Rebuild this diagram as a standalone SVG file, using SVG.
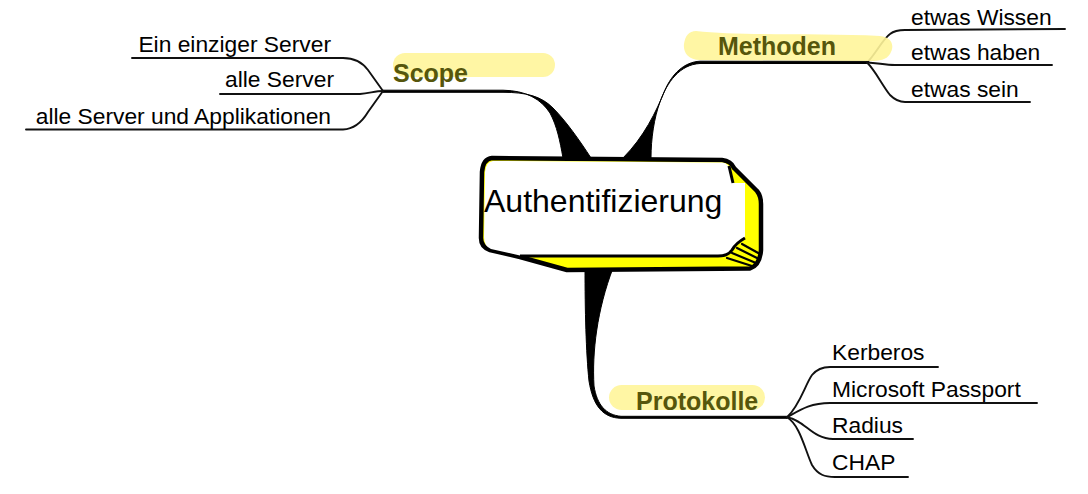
<svg xmlns="http://www.w3.org/2000/svg" width="1088" height="494" viewBox="0 0 1088 494">
<style>
  .leaf { font-family: "Liberation Sans", Arial, sans-serif; font-size: 22.8px; fill: #000; }
  .main { font-family: "Liberation Sans", Arial, sans-serif; font-size: 25px; font-weight: bold; fill: #56560c; }
  .center { font-family: "Liberation Sans", Arial, sans-serif; font-size: 32px; fill: #000; }
  .thin { fill: none; stroke: #111; stroke-width: 1.9; stroke-linecap: round; }
  .wedge { fill: #000; stroke: #000; stroke-width: 1; }
  .hl { fill: #fff59a; opacity: 0.9; }
  .hatch { stroke: #000; stroke-width: 2.2; stroke-linecap: round; }
</style>
<rect width="1088" height="494" fill="#fff"/>

<g id="connectors">
  <!-- main branches (tapered) -->
  <path class="wedge" d="M 383 90.2 L 503 90.2 C 526 90.5 541 99 550 113 C 557 126 560 141 563 158 L 591 158 C 580 141 566 121 553 108 C 541 96 526 92.3 503 92.3 L 383 92.3 Z"/>
  <path class="wedge" d="M 867 61.2 L 700 61.2 C 684 62 672 74 665 90 C 656 112 644 137 623 158 L 651 158 C 651 139 654 118 660 102 C 667 82 680 64.5 700 63.5 L 867 63.5 Z"/>
  <path class="wedge" d="M 585 268 C 585 310 586 352 589 381 C 593 406 603 417.8 621 418.3 L 787 418.3 L 787 416.3 L 621 416.3 C 606 415 597 405 594 386 C 592 352 597 310 613 268 Z"/>
  <!-- Scope children -->
  <path class="thin" d="M 132 58 L 343 58 C 355 58 362 62 368 70 L 383 91"/>
  <path class="thin" d="M 220 94 L 360 94 C 370 93 376 91 383 91"/>
  <path class="thin" d="M 26 129.5 L 343 129.5 C 355 129 362 122 368 112 L 383 91"/>
  <!-- Methoden children -->
  <path class="thin" d="M 867 62.5 C 875 55 882 40 890 34 C 895 30 900 30 905 30 L 1065 29"/>
  <path class="thin" d="M 867 62.5 C 878 63 885 65 895 65 L 1052 65"/>
  <path class="thin" d="M 867 62.5 C 875 70 882 85 890 95 C 895 100 900 102 905 102 L 1030 102"/>
  <!-- Protokolle children -->
  <path class="thin" d="M 787 417.3 C 800 405 805 385 812 375 C 817 369 822 367 830 367 L 938 367"/>
  <path class="thin" d="M 787 417.3 C 800 410 810 403 830 403 L 1037 403"/>
  <path class="thin" d="M 787 417.3 C 805 420 812 439 833 439 L 913 439"/>
  <path class="thin" d="M 787 417.3 C 800 425 805 450 812 465 C 818 475 825 477 835 477 L 908 477"/>
</g>

<g id="center">
  <path d="M 492 158 L 722 160 Q 731 161 734 168 L 757 191 Q 761 196 761 204 L 761 250 Q 760 265 750 268.5 L 567 270 L 520 257 L 490 250 Q 481 247 481 238 L 482 172 Q 483 159 492 158 Z" fill="#ffff00" stroke="#000" stroke-width="4.5" stroke-linejoin="round"/>
  <path d="M 493 161 L 722 162.5 Q 729 163.5 731 170 L 734 183 L 745 183 L 745 238 Q 736 244 732 250 Q 728 255.5 718 255.5 L 520 255.5 L 491 249 Q 484 246 484 237 L 485 172 Q 486 161.5 493 161 Z" fill="#fff"/>
  <path d="M 729 166 L 733 183" stroke="#000" stroke-width="3" fill="none"/>
  <path d="M 745 238 Q 736 243 732 250 Q 728 256 718 256 L 520 256" stroke="#000" stroke-width="3" fill="none"/>
  <line class="hatch" x1="727" y1="258" x2="752" y2="266"/>
  <line class="hatch" x1="732" y1="253" x2="756" y2="263"/>
  <line class="hatch" x1="737" y1="248" x2="759" y2="259"/>
  <line class="hatch" x1="742" y1="244" x2="760" y2="254"/>
  <text class="center" x="484" y="212">Authentifizierung</text>
</g>

<g id="scope">
  <rect class="hl" x="393" y="53" width="162" height="24" rx="12"/>
  <text class="main" x="393" y="82">Scope</text>
</g>
<g id="scope-1"><text class="leaf" x="331" y="52" text-anchor="end">Ein einziger Server</text></g>
<g id="scope-2"><text class="leaf" x="334" y="87" text-anchor="end">alle Server</text></g>
<g id="scope-3"><text class="leaf" x="331" y="124" text-anchor="end">alle Server und Applikationen</text></g>

<g id="methoden">
  <path class="hl" d="M 696 31 C 740 36 820 33 880 36 C 892 37 895 46 890 54 C 886 60 880 61 870 61 L 700 60 C 688 60 683 52 684 44 C 685 36 689 31 696 31 Z"/>
  <text class="main" x="718" y="55">Methoden</text>
</g>
<g id="methoden-1"><text class="leaf" x="911" y="25">etwas Wissen</text></g>
<g id="methoden-2"><text class="leaf" x="911" y="60">etwas haben</text></g>
<g id="methoden-3"><text class="leaf" x="911" y="97">etwas sein</text></g>

<g id="protokolle">
  <rect class="hl" x="609" y="385" width="156" height="25" rx="12.5"/>
  <text class="main" x="636" y="410">Protokolle</text>
</g>
<g id="protokolle-1"><text class="leaf" x="832" y="360">Kerberos</text></g>
<g id="protokolle-2"><text class="leaf" x="832" y="397">Microsoft Passport</text></g>
<g id="protokolle-3"><text class="leaf" x="832" y="433">Radius</text></g>
<g id="protokolle-4"><text class="leaf" x="832" y="470">CHAP</text></g>
</svg>
